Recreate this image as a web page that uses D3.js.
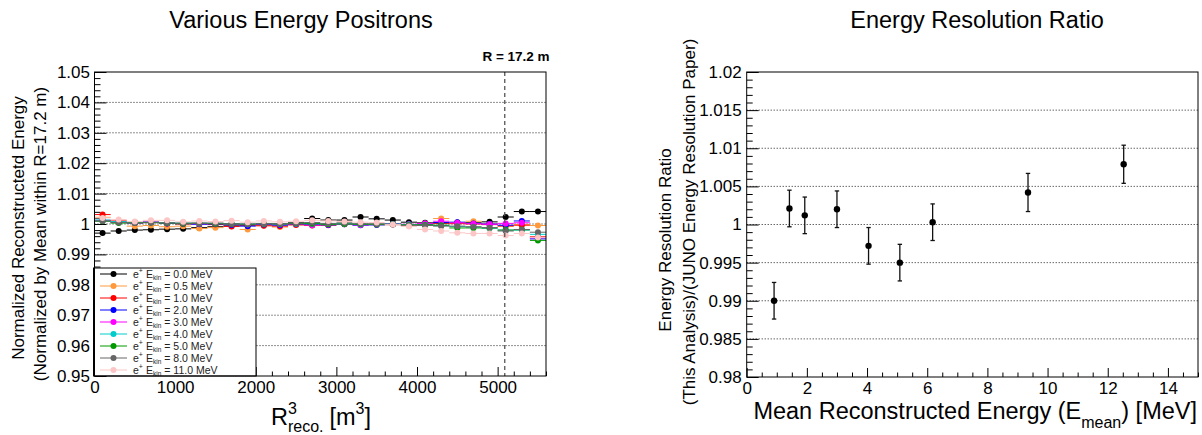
<!DOCTYPE html>
<html>
<head>
<meta charset="utf-8">
<script src="https://cdn.jsdelivr.net/npm/d3@7"></script>
<style>
  body { margin: 0; background: #fff; }
  svg { display: block; font-family: 'Liberation Sans', Arial, sans-serif; }
</style>
</head>
<body>
<svg id="chart" width="1202" height="435"></svg>
<script>
// ---- left panel data: normalized energy vs R^3 (bins of 200 m^3)
const binCenters = [100, 300, 500, 700, 900, 1100, 1300, 1500, 1700, 1900, 2100, 2300, 2500, 2700,
                    2900, 3100, 3300, 3500, 3700, 3900, 4100, 4300, 4500, 4700, 4900, 5100, 5300, 5500];
const binHalfWidth = 100;
const seriesEnergies = ['0.0', '0.5', '1.0', '2.0', '3.0', '4.0', '5.0', '8.0', '11.0'];

const e00 = [0.9970, 0.9977, 0.9980, 0.9981, 0.9983, 0.9984, 0.9988, 0.9991, 0.9994, 0.9996, 0.9998, 0.9999, 1.0004, 1.0018,
             1.0013, 1.0013, 1.0023, 1.0017, 1.0013, 1.0006, 1.0004, 1.0003, 1.0005, 1.0004, 1.0007, 1.0023, 1.0041, 1.0041];
const e05 = [1.0022, 1.0006, 0.9993, 0.9995, 0.9991, 0.9993, 0.9985, 0.9988, 0.9993, 0.9982, 0.9995, 0.9990, 0.9998, 1.0002,
             1.0000, 0.9999, 0.9998, 1.0001, 0.9999, 0.9996, 1.0002, 1.0018, 1.0004, 1.0009, 1.0000, 0.9992, 0.9998, 0.9995];
const e10 = [1.0031, 1.0010, 1.0004, 1.0006, 1.0002, 1.0000, 1.0003, 0.9998, 0.9992, 0.9997, 0.9994, 0.9993, 0.9997, 0.9995,
             0.9996, 1.0000, 0.9998, 0.9999, 0.9998, 0.9997, 0.9999, 1.0003, 1.0001, 1.0000, 0.9998, 0.9994, 0.9996, 0.9958];
const e20 = [1.0012, 1.0006, 1.0003, 1.0005, 1.0002, 1.0001, 0.9999, 1.0000, 0.9997, 0.9993, 0.9998, 0.9996, 1.0000, 0.9999,
             0.9997, 0.9999, 0.9996, 0.9997, 1.0000, 0.9998, 1.0001, 1.0005, 1.0006, 1.0002, 1.0000, 0.9996, 1.0010, 0.9951];
const e30 = [1.0011, 1.0007, 1.0004, 1.0007, 1.0003, 1.0002, 1.0001, 1.0002, 0.9999, 0.9998, 1.0000, 0.9998, 1.0001, 0.9996,
             0.9998, 0.9999, 0.9997, 0.9998, 0.9999, 0.9999, 1.0002, 1.0009, 1.0004, 1.0001, 0.9999, 1.0002, 1.0004, 0.9955];
const e40 = [1.0013, 1.0008, 1.0006, 1.0006, 1.0004, 1.0004, 1.0003, 1.0002, 1.0001, 1.0000, 1.0001, 1.0000, 1.0002, 1.0001,
             1.0000, 1.0001, 0.9999, 1.0000, 0.9999, 0.9998, 0.9997, 0.9995, 0.9992, 0.9990, 0.9986, 0.9980, 0.9980, 0.9966];
const e50 = [1.0009, 1.0003, 1.0004, 1.0005, 1.0003, 1.0001, 1.0002, 1.0001, 1.0000, 0.9999, 1.0001, 1.0000, 1.0002, 1.0001,
             0.9999, 1.0000, 0.9999, 0.9998, 0.9999, 0.9997, 0.9997, 0.9996, 0.9987, 0.9987, 0.9987, 0.9980, 0.9981, 0.9946];
const e80 = [1.0010, 1.0005, 1.0003, 1.0004, 1.0004, 1.0003, 1.0002, 1.0003, 1.0001, 1.0000, 1.0002, 1.0001, 1.0003, 1.0005,
             1.0002, 1.0004, 1.0001, 1.0000, 0.9998, 0.9996, 0.9995, 0.9993, 0.9993, 0.9991, 0.9988, 0.9977, 0.9982, 0.9973];
const e110 = [1.0020, 1.0015, 1.0008, 1.0012, 1.0012, 1.0007, 1.0010, 1.0008, 1.0011, 1.0006, 1.0010, 1.0007, 1.0009, 1.0012,
              1.0010, 1.0008, 1.0006, 1.0005, 0.9998, 0.9992, 0.9982, 0.9977, 0.9971, 0.9969, 0.9969, 0.9962, 0.9969, 0.9956];
const leftSeries = [e00, e05, e10, e20, e30, e40, e50, e80, e110];
const seriesColors = ['#000000', '#ff9a3c', '#ff0000', '#0000ff', '#ff00ff', '#00cccc', '#009900', '#666666', '#fcc6c6'];

const rCut = 17.2 ** 3; // R = 17.2 m

const leftXTicks = [0, 1000, 2000, 3000, 4000, 5000];
const leftYTicks = [0.95, 0.96, 0.97, 0.98, 0.99, 1.00, 1.01, 1.02, 1.03, 1.04, 1.05];

// ---- right panel data: resolution ratio vs mean energy
const meanEnergy = [0.91, 1.42, 1.93, 3.00, 4.05, 5.09, 6.18, 9.35, 12.53];
const resRatio = [0.9900, 1.0021, 1.0012, 1.0020, 0.9972, 0.9950, 1.0003, 1.0042, 1.0079];
const resRatioErr = [0.0024, 0.0024, 0.0024, 0.0024, 0.0024, 0.0024, 0.0024, 0.0025, 0.0025];

const rightXTicks = [0, 2, 4, 6, 8, 10, 12, 14];
const rightYTicks = [0.98, 0.985, 0.99, 0.995, 1.0, 1.005, 1.01, 1.015, 1.02];

const svg = d3.select('#chart');
svg.append('rect').attr('width', 1202).attr('height', 435).attr('fill', '#fff');

// lays out pieces of text (with sub/superscripts) one after another
function richText(parent, x, y, parts, anchor) {
    const g = parent.append('g');
    let cx = 0, prevX = 0;
    parts.forEach(p => {
        const px = p.same ? prevX : cx + (p.gap || 0);
        const t = g.append('text')
            .attr('x', px)
            .attr('y', p.dy || 0)
            .attr('font-size', p.size)
            .attr('font-weight', p.bold ? 'bold' : null)
            .text(p.t);
        const w = t.node().getComputedTextLength();
        cx = p.same ? Math.max(cx, px + w) : px + w;
        prevX = px;
    });
    let shift = 0;
    if (anchor === 'middle') shift = -cx / 2;
    if (anchor === 'end') shift = -cx;
    g.attr('transform', `translate(${x + shift},${y})`);
    return g;
}

function drawAxes(box, xs, ys, xMajor, xMinor, yMajor, yMinor, xFmt, yFmt) {
    // dotted horizontal grid
    svg.append('g')
        .selectAll('line')
        .data(yMajor.filter(v => ys(v) > box.y0 + 1 && ys(v) < box.y1 - 1))
        .enter().append('line')
        .attr('x1', box.x0).attr('x2', box.x1)
        .attr('y1', d => ys(d)).attr('y2', d => ys(d))
        .attr('stroke', '#222')
        .attr('stroke-width', 1)
        .attr('stroke-dasharray', '1,2');

    const xAxis = svg.append('g')
        .attr('transform', `translate(0,${box.y1})`)
        .call(d3.axisBottom(xs).tickValues(xMajor).tickSizeInner(-9).tickSizeOuter(0)
            .tickPadding(5).tickFormat(xFmt));
    svg.append('g')
        .attr('transform', `translate(0,${box.y1})`)
        .call(d3.axisBottom(xs).tickValues(xMinor).tickSizeInner(-4.5).tickSizeOuter(0).tickFormat(''));

    const yAxis = svg.append('g')
        .attr('transform', `translate(${box.x0},0)`)
        .call(d3.axisLeft(ys).tickValues(yMajor).tickSizeInner(-12).tickSizeOuter(0)
            .tickPadding(box.labelPad).tickFormat(yFmt));
    svg.append('g')
        .attr('transform', `translate(${box.x0},0)`)
        .call(d3.axisLeft(ys).tickValues(yMinor).tickSizeInner(-6).tickSizeOuter(0).tickFormat(''));

    svg.selectAll('.domain').remove();
    svg.selectAll('.tick line').attr('stroke', '#000');
    [xAxis, yAxis].forEach(a => a.selectAll('text')
        .attr('font-size', 17)
        .attr('fill', '#000')
        .attr('font-family', "'Liberation Sans', Arial, sans-serif"));
}

// ================= LEFT PANEL =================
const left = { x0: 94.5, x1: 546, y0: 72, y1: 376, labelPad: 4.5 };
const xL = d3.scaleLinear().domain([0, 5600]).range([left.x0, left.x1]);
const yL = d3.scaleLinear().domain([0.95, 1.05]).range([left.y1, left.y0]);

const leftXMinor = d3.range(0, 5601, 200).filter(v => v % 1000 !== 0);
const leftYMinor = d3.range(950, 1051, 2).map(v => v / 1000).filter(v => Math.round(v * 1000) % 10 !== 0);

drawAxes(left, xL, yL, leftXTicks, leftXMinor, leftYTicks, leftYMinor,
    d => d3.format('d')(d), d => (d === 1 ? '1' : d3.format('.2f')(d)));

// data points with bin-width error bars
leftSeries.forEach((vals, i) => {
    const g = svg.append('g');
    g.selectAll('line')
        .data(vals)
        .enter().append('line')
        .attr('x1', (d, j) => xL(binCenters[j] - binHalfWidth))
        .attr('x2', (d, j) => xL(binCenters[j] + binHalfWidth))
        .attr('y1', d => yL(d))
        .attr('y2', d => yL(d))
        .attr('stroke', seriesColors[i])
        .attr('stroke-width', 1);
    g.selectAll('circle')
        .data(vals)
        .enter().append('circle')
        .attr('cx', (d, j) => xL(binCenters[j]))
        .attr('cy', d => yL(d))
        .attr('r', 3)
        .attr('fill', seriesColors[i]);
});

// R = 17.2 m marker
svg.append('line')
    .attr('x1', xL(rCut)).attr('x2', xL(rCut))
    .attr('y1', left.y0).attr('y2', left.y1)
    .attr('stroke', '#555')
    .attr('stroke-width', 1.3)
    .attr('stroke-dasharray', '4,3');
richText(svg, 516, 61, [{ t: 'R = 17.2 m', size: 13.5, bold: true }], 'middle');

// legend
const legend = svg.append('g');
legend.append('rect')
    .attr('x', 93.5).attr('y', 268).attr('width', 162.5).attr('height', 108)
    .attr('fill', '#fff').attr('stroke', '#000').attr('stroke-width', 1);
seriesEnergies.forEach((e, i) => {
    const ry = 274 + i * 12;
    legend.append('line')
        .attr('x1', 100).attr('x2', 127).attr('y1', ry).attr('y2', ry)
        .attr('stroke', seriesColors[i]).attr('stroke-width', 1);
    legend.append('circle')
        .attr('cx', 113.5).attr('cy', ry).attr('r', 3).attr('fill', seriesColors[i]);
    richText(legend, 133, ry + 3.7, [
        { t: 'e', size: 10.5 },
        { t: '+', size: 7, dy: -4.5 },
        { t: 'E', size: 10.5, gap: 3 },
        { t: 'kin', size: 6.5, dy: 2.5 },
        { t: '= ' + e + ' MeV', size: 10.5, gap: 3 }
    ], 'start').attr('fill', '#222');
});

svg.append('rect')
    .attr('x', left.x0).attr('y', left.y0)
    .attr('width', left.x1 - left.x0).attr('height', left.y1 - left.y0)
    .attr('fill', 'none').attr('stroke', '#000').attr('stroke-width', 1);

// titles
richText(svg, 301, 28, [{ t: 'Various Energy Positrons', size: 23.5 }], 'middle');
richText(svg, 321, 425, [
    { t: 'R', size: 23.5 },
    { t: '3', size: 16, dy: -11 },
    { t: 'reco.', size: 16, dy: 7, same: true },
    { t: '[m', size: 23.5, gap: 6 },
    { t: '3', size: 16, dy: -11 },
    { t: ']', size: 23.5 }
], 'middle');
svg.append('text')
    .attr('transform', 'translate(24,228) rotate(-90)')
    .attr('text-anchor', 'middle').attr('font-size', 17)
    .text('Normalized Reconstructetd Energy');
svg.append('text')
    .attr('transform', 'translate(46,234) rotate(-90)')
    .attr('text-anchor', 'middle').attr('font-size', 17)
    .text('(Normalized by Mean within R=17.2 m)');

// ================= RIGHT PANEL =================
const right = { x0: 746.7, x1: 1198, y0: 72, y1: 377, labelPad: 5 };
const xR = d3.scaleLinear().domain([0, 15]).range([right.x0, right.x1]);
const yR = d3.scaleLinear().domain([0.98, 1.02]).range([right.y1, right.y0]);

const rightXMinor = d3.range(0, 15.01, 0.5).filter(v => v % 2 !== 0);
const rightYMinor = d3.range(980, 1020.5, 1).map(v => v / 1000).filter(v => Math.round(v * 1000) % 5 !== 0);

drawAxes(right, xR, yR, rightXTicks, rightXMinor, rightYTicks, rightYMinor,
    d => d3.format('d')(d), d => (d === 1 ? '1' : d3.format('')(+d.toFixed(3))));

const pts = svg.append('g');
meanEnergy.forEach((e, i) => {
    const cx = xR(e);
    const yTop = yR(resRatio[i] + resRatioErr[i]);
    const yBot = yR(resRatio[i] - resRatioErr[i]);
    pts.append('line').attr('x1', cx).attr('x2', cx).attr('y1', yTop).attr('y2', yBot)
        .attr('stroke', '#111').attr('stroke-width', 1.3);
    pts.append('line').attr('x1', cx - 2.2).attr('x2', cx + 2.2).attr('y1', yTop).attr('y2', yTop)
        .attr('stroke', '#111').attr('stroke-width', 1.3);
    pts.append('line').attr('x1', cx - 2.2).attr('x2', cx + 2.2).attr('y1', yBot).attr('y2', yBot)
        .attr('stroke', '#111').attr('stroke-width', 1.3);
    pts.append('circle').attr('cx', cx).attr('cy', yR(resRatio[i])).attr('r', 3.2).attr('fill', '#000');
});

svg.append('rect')
    .attr('x', right.x0).attr('y', right.y0)
    .attr('width', right.x1 - right.x0).attr('height', right.y1 - right.y0)
    .attr('fill', 'none').attr('stroke', '#000').attr('stroke-width', 1);

richText(svg, 977, 28, [{ t: 'Energy Resolution Ratio', size: 23.5 }], 'middle');
richText(svg, 1197, 419, [
    { t: 'Mean Reconstructed Energy (E', size: 23.5 },
    { t: 'mean', size: 16, dy: 9 },
    { t: ') [MeV]', size: 23.5 }
], 'end');
svg.append('text')
    .attr('transform', 'translate(671,240) rotate(-90)')
    .attr('text-anchor', 'middle').attr('font-size', 17)
    .text('Energy Resolution Ratio');
svg.append('text')
    .attr('transform', 'translate(695,222) rotate(-90)')
    .attr('text-anchor', 'middle').attr('font-size', 17)
    .text('(This Analysis)/(JUNO Energy Resolution Paper)');
</script>
</body>
</html>
